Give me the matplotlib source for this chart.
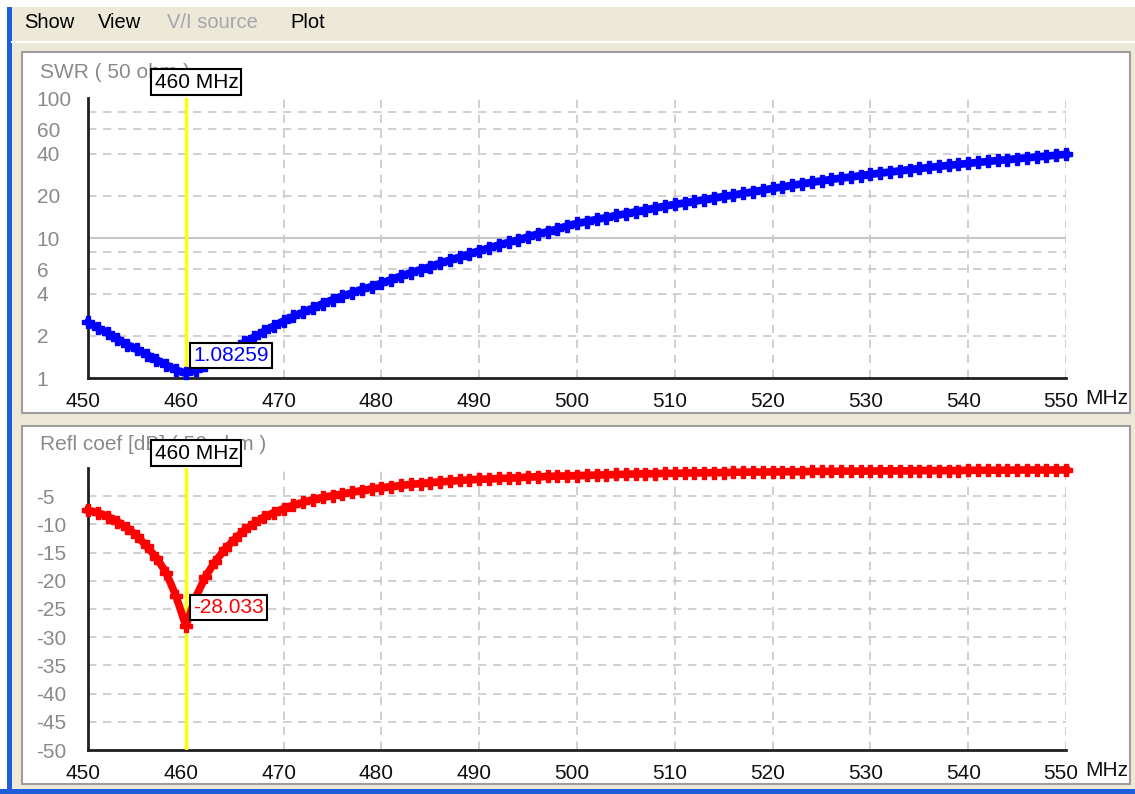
import matplotlib
matplotlib.use("Agg")
import matplotlib.pyplot as plt
import matplotlib.transforms as mtransforms
from matplotlib.patches import Rectangle
from matplotlib.lines import Line2D

# sweep 450..550 MHz, 1 MHz step
freq_mhz = list(range(450, 551))

swr = [2.50, 2.28, 2.10, 1.90, 1.73, 1.60, 1.47, 1.35, 1.24, 1.14,
       1.08, 1.14, 1.24, 1.35, 1.47, 1.62, 1.80, 1.96, 2.15, 2.35,
       2.55, 2.75, 2.95, 3.15, 3.40, 3.62, 3.85, 4.05, 4.30, 4.50,
       4.75, 5.05, 5.35, 5.65, 5.95, 6.25, 6.60, 6.95, 7.30, 7.70,
       8.10, 8.50, 8.90, 9.30, 9.70, 10.2, 10.7, 11.1, 11.6, 12.2,
       12.7, 13.1, 13.6, 14.0, 14.5, 14.9, 15.4, 15.9, 16.4, 16.9,
       17.4, 17.8, 18.3, 18.8, 19.3, 19.8, 20.3, 20.8, 21.4, 22.0,
       22.6, 23.2, 23.8, 24.4, 25.0, 25.6, 26.2, 26.8, 27.3, 27.9,
       28.5, 29.1, 29.6, 30.2, 30.8, 31.4, 31.9, 32.5, 33.0, 33.6,
       34.1, 34.7, 35.2, 35.8, 36.3, 36.9, 37.4, 38.0, 38.5, 39.1,
       39.6]

refl_db = [-7.5, -7.9, -8.6, -9.5, -10.6, -12.0, -13.9, -15.9, -18.6, -22.7,
           -28.0, -23.0, -19.3, -16.6, -14.4, -12.6, -11.0, -9.8, -8.7, -7.9,
           -7.2, -6.6, -6.1, -5.6, -5.2, -4.9, -4.6, -4.3, -4.0, -3.7,
           -3.5, -3.3, -3.1, -2.9, -2.75, -2.6, -2.45, -2.35, -2.2, -2.1,
           -2.0, -1.95, -1.85, -1.8, -1.7, -1.6, -1.55, -1.5, -1.45, -1.4,
           -1.35, -1.3, -1.25, -1.2, -1.15, -1.1, -1.05, -1.0, -1.0, -0.95,
           -0.95, -0.9, -0.85, -0.85, -0.8, -0.8, -0.75, -0.75, -0.7, -0.7,
           -0.7, -0.65, -0.65, -0.65, -0.6, -0.6, -0.6, -0.55, -0.55, -0.55,
           -0.55, -0.5, -0.5, -0.5, -0.5, -0.45, -0.45, -0.45, -0.45, -0.45,
           -0.4, -0.4, -0.4, -0.4, -0.4, -0.35, -0.35, -0.35, -0.35, -0.35,
           -0.35]

x_ticks = [450, 460, 470, 480, 490, 500, 510, 520, 530, 540, 550]
swr_ticks = [1, 2, 4, 6, 10, 20, 40, 60, 100]
swr_dash_grid = [2, 4, 6, 8, 20, 40, 60, 80]
refl_ticks = [-5, -10, -15, -20, -25, -30, -35, -40, -45, -50]
marker_freq = 460
swr_at_marker = "1.08259"
refl_at_marker = "-28.033"

W, H = 1135, 794
plt.rcParams['font.family'] = ['Liberation Sans', 'DejaVu Sans']
fig = plt.figure(figsize=(W / 100, H / 100), dpi=100, facecolor='#ECE9D8')


def px_rect(x0, y0, x1, y1, **kw):
    # rectangle given in pixel coords measured from the top-left corner
    r = Rectangle((x0 / W, 1 - y1 / H), (x1 - x0) / W, (y1 - y0) / H,
                  transform=fig.transFigure, zorder=-10, **kw)
    fig.add_artist(r)


def px_axes(x0, y0, x1, y1):
    return fig.add_axes([x0 / W, 1 - y1 / H, (x1 - x0) / W, (y1 - y0) / H])


# window chrome
px_rect(0, 0, W, 7, facecolor='white', edgecolor='none')
px_rect(0, 0, 7, H, facecolor='white', edgecolor='none')
px_rect(7, 7, 12, H, facecolor='#1E5FD9', edgecolor='none')
px_rect(0, 789, W, H, facecolor='#1E5FD9', edgecolor='none')
fig.add_artist(Line2D([12 / W, 1], [1 - 42 / H] * 2, color='white', lw=1.5,
                      transform=fig.transFigure, zorder=-9))
for label, x, col in [("Show", 24, 'black'), ("View", 98, 'black'),
                      ("V/I source", 167, '#A7A6AA'), ("Plot", 290, 'black')]:
    fig.text(x / W, 1 - 23 / H, label, fontsize=14.5, color=col, va='center', ha='left')

px_rect(22, 52, 1130, 413, facecolor='white', edgecolor='#9D9D9D', lw=1.5)
px_rect(22, 426, 1130, 784, facecolor='white', edgecolor='#9D9D9D', lw=1.5)

ax1 = px_axes(88, 98, 1066, 378)
ax2 = px_axes(88, 468, 1066, 750)

grid_kw = dict(color='#C8C8C8', lw=1.2, linestyle=(0, (5, 4)), zorder=1)
shift_left = mtransforms.ScaledTranslation(-5 / 100, 0, fig.dpi_scale_trans)

for ax in (ax1, ax2):
    ax.set_facecolor('white')
    ax.set_xlim(450, 550)
    ax.set_xticks(x_ticks)
    ax.set_xticklabels([str(t) for t in x_ticks])
    for t in x_ticks[1:]:
        ax.axvline(t, **grid_kw)
    for side in ('top', 'right'):
        ax.spines[side].set_visible(False)
    for side in ('left', 'bottom'):
        ax.spines[side].set_color('#202020')
        ax.spines[side].set_linewidth(2)
    ax.tick_params(axis='x', length=0, pad=10, labelsize=15, labelcolor='#111111')
    ax.tick_params(axis='y', length=0, labelsize=15, labelcolor='#8A8A8A', pad=37)
    for lbl in ax.get_xticklabels():
        lbl.set_transform(lbl.get_transform() + shift_left)
    ax.text(1.02, -0.072 if ax is ax1 else -0.071, "MHz", transform=ax.transAxes,
            fontsize=15, color='#111111', ha='left', va='center')
    ax.axvline(marker_freq, color='#FFFF00', lw=2.4, zorder=3)

# SWR panel
ax1.set_yscale('log')
ax1.set_ylim(1, 100)
ax1.set_yticks(swr_ticks)
ax1.set_yticklabels([str(t) for t in swr_ticks])
ax1.yaxis.set_minor_locator(matplotlib.ticker.NullLocator())
for g in swr_dash_grid:
    ax1.axhline(g, **grid_kw)
ax1.axhline(10, color='#C8C8C8', lw=1.5, zorder=1)
ax1.plot(freq_mhz, swr, color='#0000FF', lw=5.5, marker='P', ms=8,
         mec='#0000FF', zorder=4, clip_on=False)

# reflection coefficient panel
ax2.set_ylim(-50, 0)
ax2.set_yticks(refl_ticks)
ax2.set_yticklabels([str(t) for t in refl_ticks])
for g in refl_ticks[:-1]:
    ax2.axhline(g, **grid_kw)
ax2.plot(freq_mhz, refl_db, color='#FF0000', lw=5.5, marker='P', ms=8,
         mec='#FF0000', zorder=4, clip_on=False)

for ax in (ax1, ax2):
    for lbl in ax.get_yticklabels():
        lbl.set_horizontalalignment('left')

# panel captions and marker boxes
box = dict(boxstyle='square,pad=0.15', fc='white', ec='black', lw=1.5)
ax1.text(-0.049, 1.091, "SWR ( 50 ohm )", transform=ax1.transAxes, fontsize=15,
         color='#8A8A8A', ha='left', va='center', zorder=5)
ax2.text(-0.049, 1.085, "Refl coef [dB] ( 50 ohm )", transform=ax2.transAxes,
         fontsize=15, color='#8A8A8A', ha='left', va='center', zorder=5)
for ax, ypos in ((ax1, 1.057), (ax2, 1.053)):
    tr = mtransforms.blended_transform_factory(ax.transData, ax.transAxes)
    ax.text(456.8, ypos, f"{marker_freq} MHz", transform=tr, fontsize=15,
            color='black', ha='left', va='center', bbox=box, zorder=6, clip_on=False)

tr1 = mtransforms.blended_transform_factory(ax1.transData, ax1.transAxes)
ax1.text(460.75, 0.08, swr_at_marker, transform=tr1, fontsize=15, color='#0000FF',
         ha='left', va='center', bbox=box, zorder=6)
tr2 = mtransforms.blended_transform_factory(ax2.transData, ax2.transAxes)
ax2.text(460.75, 0.504, refl_at_marker, transform=tr2, fontsize=15, color='#FF0000',
         ha='left', va='center', bbox=box, zorder=6)

fig.savefig("out.png", dpi=100, facecolor=fig.get_facecolor())
